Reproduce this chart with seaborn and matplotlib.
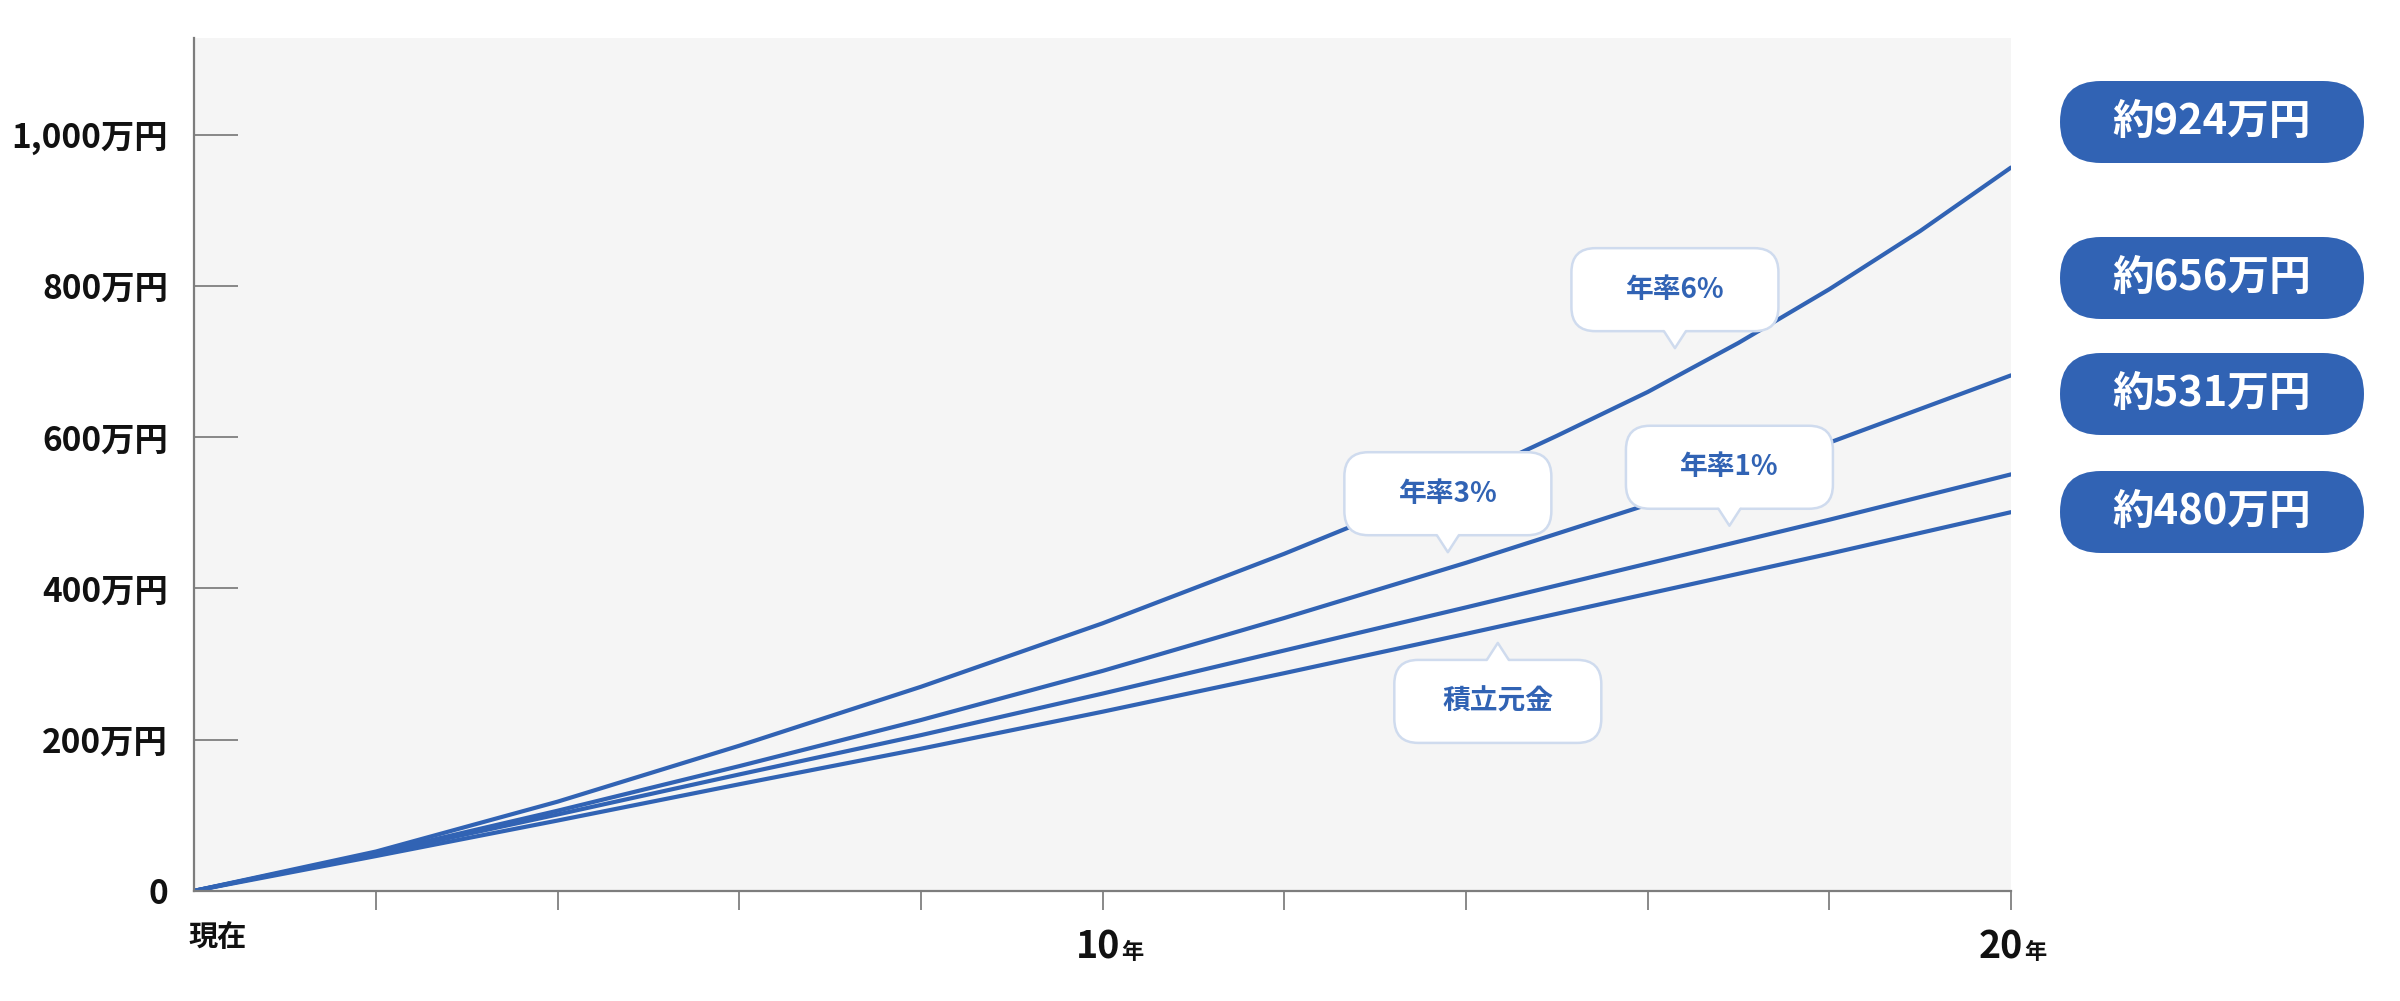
import numpy as np
import pandas as pd
import matplotlib
matplotlib.use("Agg")
import matplotlib.pyplot as plt
import seaborn as sns
from matplotlib.patches import FancyBboxPatch, Polygon
from matplotlib.lines import Line2D
from matplotlib.transforms import IdentityTransform


### values (万円)
years = [0, 2, 4, 6, 8, 10, 12, 14, 16, 18, 20]
principal = [0, 46, 93, 141, 188, 237, 288, 340, 393, 446, 501]
rate_1 = [0, 49, 101, 154, 206, 261, 318, 375, 433, 491, 551]
rate_3 = [0, 50, 106, 165, 226, 291, 361, 434, 511, 593, 682]
# 6% curve bends more at the end, so it is read yearly there
years_6 = [0, 2, 4, 6, 8, 10, 12, 13, 14, 15, 16, 17, 18, 19, 20]
rate_6 = [0, 52, 118, 192, 270, 354, 446, 495, 546, 602, 660, 725, 796, 873, 957]

series_names = ["積立元金", "年率1%", "年率3%", "年率6%"]
final_amounts = [924, 656, 531, 480]

y_ticks = [0, 200, 400, 600, 800, 1000]
y_labels = ["0", "200万円", "400万円", "600万円", "800万円", "1,000万円"]
x_ticks = [2, 4, 6, 8, 10, 12, 14, 16, 18, 20]

# callout labels: (text, tip year, tip value, pointer up?)
callouts = [
    ("年率6%", 16.3, 718, False),
    ("年率3%", 13.8, 448, False),
    ("年率1%", 16.9, 483, False),
    ("積立元金", 14.35, 328, True),
]

BLUE = "#3163b4"
EDGE = "#cfdbee"

df = pd.DataFrame({
    "year": years * 3 + years_6,
    "value": principal + rate_1 + rate_3 + rate_6,
    "series": [series_names[0]] * len(years) + [series_names[1]] * len(years)
              + [series_names[2]] * len(years) + [series_names[3]] * len(years_6),
})

sns.set_theme(style="white")
plt.rcParams["font.family"] = ["Noto Sans CJK JP", "DejaVu Sans"]

fig = plt.figure(figsize=(24, 10.01), dpi=100)
W, H = 2400, 1001
left, right, top, bottom = 194.4, 2011, 38.3, 890.8
ax = fig.add_axes([left / W, 1 - bottom / H, (right - left) / W, (bottom - top) / H])
ax.set_facecolor("#f5f5f5")

sns.lineplot(data=df, x="year", y="value", hue="series",
             palette=[BLUE] * 4, linewidth=3.0, legend=False, ax=ax)

ax.set_xlim(0, 20)
ax.set_ylim(0, 1128)
ax.set_xlabel("")
ax.set_ylabel("")

for s in ["top", "right"]:
    ax.spines[s].set_visible(False)
for s in ["left", "bottom"]:
    ax.spines[s].set_color("#7d7d7d")
    ax.spines[s].set_linewidth(1.6)

ax.set_yticks(y_ticks)
ax.set_yticklabels(y_labels, fontsize=24, fontweight="bold", color="#111111")
ax.tick_params(axis="y", left=True, direction="in", length=32, width=1.1,
               color="#6a6a6a", pad=19)

ax.set_xticks(x_ticks)
ax.set_xticklabels([""] * len(x_ticks))
ax.tick_params(axis="x", bottom=True, direction="out", length=14, width=1.1, color="#6a6a6a")

### x labels
ax.annotate("現在", xy=(0, 0), xycoords=("data", "axes fraction"), xytext=(-4, -33),
            textcoords="offset points", ha="left", va="center",
            fontsize=21, fontweight="bold", color="#111111")
for yr, dx_num, dx_nen in [(10, -3, 13), (20, -7, 9.5)]:
    ax.annotate(str(yr), xy=(yr, 0), xycoords=("data", "axes fraction"), xytext=(dx_num, -49),
                textcoords="offset points", ha="center", va="baseline",
                fontsize=27, fontweight="bold", color="#111111")
    ax.annotate("年", xy=(yr, 0), xycoords=("data", "axes fraction"), xytext=(dx_nen, -49),
                textcoords="offset points", ha="left", va="baseline",
                fontsize=16, fontweight="bold", color="#111111")


### speech-bubble labels on the lines
def callout(ax, x, y, text, up=False):
    tx, ty = ax.transData.transform((x, y))
    w, h, gap, hw = 207, 83, 17, 11
    if up:
        base = ty - gap
        by = base - h
        inner = base - 4
    else:
        base = ty + gap
        by = base
        inner = base + 4
    box = FancyBboxPatch((tx - w / 2, by), w, h, boxstyle="round,pad=0,rounding_size=24",
                         fc="white", ec=EDGE, lw=1.8, transform=IdentityTransform(),
                         zorder=5, clip_on=False)
    ax.add_patch(box)
    tri = Polygon([(tx - hw, inner), (tx - hw, base), (tx, ty), (tx + hw, base), (tx + hw, inner)],
                  closed=True, fc="white", ec="none", transform=IdentityTransform(),
                  zorder=6, clip_on=False)
    ax.add_patch(tri)
    ax.add_line(Line2D([tx - hw, tx, tx + hw], [base, ty, base], color=EDGE, lw=1.8,
                       transform=IdentityTransform(), zorder=6, clip_on=False))
    ax.text(tx, by + h / 2, text, transform=IdentityTransform(), ha="center", va="center",
            fontsize=20, fontweight="bold", color=BLUE, zorder=7)


for text, cx, cy, up in callouts:
    callout(ax, cx, cy, text, up)

### pills with final amounts
pill_centers = [122, 278, 394, 512]
pw, ph = 304, 82
for amt, cy in zip(final_amounts, pill_centers):
    y0 = H - cy - ph / 2
    pill = FancyBboxPatch((2060, y0), pw, ph, boxstyle=f"round,pad=0,rounding_size={ph / 2}",
                          fc=BLUE, ec="none", transform=IdentityTransform(), zorder=5)
    fig.add_artist(pill)
    fig.text(2060 + pw / 2, H - cy, f"約{amt}万円", transform=IdentityTransform(),
             ha="center", va="center", fontsize=30, fontweight="bold", color="white", zorder=6)

fig.savefig("out.png", dpi=100)
